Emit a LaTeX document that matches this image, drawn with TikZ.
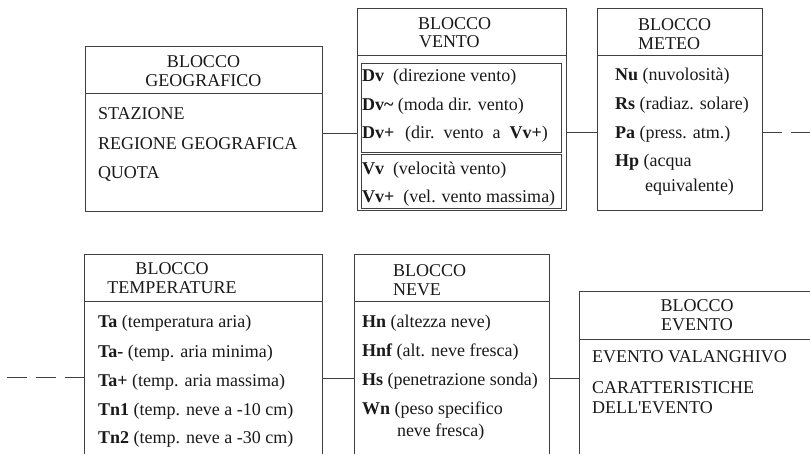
\documentclass[tikz,border=0pt]{standalone}
\usepackage{fontspec}
\setmainfont{Liberation Serif}
\newfontfamily\plainserif{Liberation Serif}
\begin{document}
\begin{tikzpicture}[x=1pt,y=-1pt,
  blockbox/.style={draw=black!75, line width=0.9pt, rectangle, inner sep=0pt, outer sep=0pt},
  txt/.style={anchor=base west, inner sep=0pt, outer sep=0pt, text=black!90, font=\fontsize{18}{21}\selectfont},
  hdr/.style={txt, anchor=base},
  link/.style={draw=black!75, line width=0.9pt},
  dashlink/.style={link, dash pattern=on 20pt off 9pt}]
\useasboundingbox (0,0) rectangle (810,453);
\clip (0,0) rectangle (810,453);

% ---- blocks ----
\node[blockbox, minimum width=237pt, minimum height=165pt] (geo) at (203.5,128.5) {};
\node[blockbox, minimum width=209pt, minimum height=202pt] (vento) at (461.5,109) {};
\node[blockbox, minimum width=200pt, minimum height=89pt] (ventoA) at (461,107.5) {};
\node[blockbox, minimum width=200pt, minimum height=54pt] (ventoB) at (461,181) {};
\node[blockbox, minimum width=165pt, minimum height=202pt] (meteo) at (679.5,109) {};
\node[blockbox, minimum width=238pt, minimum height=226pt] (temp) at (203,367) {};
\node[blockbox, minimum width=195pt, minimum height=226pt] (neve) at (451.5,367) {};
\node[blockbox, minimum width=261pt, minimum height=189pt] (evento) at (709.5,385.5) {};

% ---- header dividers ----
\draw[link] ([yshift=-47pt]geo.north west) -- ([yshift=-47pt]geo.north east);
\draw[link] ([yshift=-47pt]vento.north west) -- ([yshift=-47pt]vento.north east);
\draw[link] ([yshift=-47pt]meteo.north west) -- ([yshift=-47pt]meteo.north east);
\draw[link] ([yshift=-47pt]temp.north west) -- ([yshift=-47pt]temp.north east);
\draw[link] ([yshift=-47pt]neve.north west) -- ([yshift=-47pt]neve.north east);
\draw[link] ([yshift=-48pt]evento.north west) -- ([yshift=-48pt]evento.north east);

% ---- connectors ----
\coordinate (rowA) at (0,133);
\coordinate (rowB) at (0,132);
\coordinate (rowC) at (0,378);
\coordinate (rightend) at (810,132);
\coordinate (leftend) at (7,377);
\draw[link] (geo.east |- rowA) -- (vento.west |- rowA);
\draw[link] (vento.east |- rowB) -- (meteo.west |- rowB);
\draw[dashlink] (meteo.east |- rowB) -- (rightend);
\draw[dashlink] (leftend) -- (temp.west |- leftend);
\draw[link] (temp.east |- rowC) -- (neve.west |- rowC);
\draw[link] (neve.east |- rowC) -- (evento.west |- rowC);

% ---- BLOCCO GEOGRAFICO ----
\node[hdr] (geoh1) at (203.5,67) {BLOCCO};
\node[hdr] (geoh2) at (203.5,86) {GEOGRAFICO};
\node[txt] (geot1) at (98,119.5) {STAZIONE};
\node[txt] (geot2) at (98,149.5) {REGIONE GEOGRAFICA};
\node[txt] (geot3) at (98,178.5) {QUOTA};

% ---- BLOCCO VENTO ----
\node[txt] (venh1) at (418,29.5) {BLOCCO};
\node[txt] (venh2) at (419,47.5) {VENTO};
\node[txt] (vent1) at (362,81) {\textbf{Dv}\hspace{0.5em}(direzione vento)};
\node[txt] (vent2) at (362,110) {\textbf{Dv\textasciitilde} (moda dir. vento)};
\node[txt] (vent3) at (362,138) {\textbf{Dv+}\hspace{0.6em}(dir.\hspace{0.5em}vento\hspace{0.5em}a\hspace{0.5em}\textbf{Vv+})};
\node[txt] (vent4) at (362,174) {\textbf{Vv}\hspace{0.5em}(velocità vento)};
\node[txt] (vent5) at (362,202) {\textbf{Vv+}\hspace{0.5em}(vel. vento massima)};

% ---- BLOCCO METEO ----
\node[txt] (meth1) at (638,30.5) {BLOCCO};
\node[txt] (meth2) at (638,49.5) {METEO};
\node[txt] (met1) at (615,80.5) {\textbf{Nu} (nuvolosità)};
\node[txt] (met2) at (615,109.5) {\textbf{Rs} (radiaz. solare)};
\node[txt] (met3) at (615,138.5) {\textbf{Pa} (press. atm.)};
\node[txt] (met4) at (615,166.5) {\textbf{Hp} (acqua};
\node[txt] (met5) at (645,191.5) {equivalente)};

% ---- BLOCCO TEMPERATURE ----
\node[hdr] (temh1) at (172,274.5) {BLOCCO};
\node[hdr] (temh2) at (172,293.5) {TEMPERATURE};
\node[txt] (tem1) at (98,327.5) {\textbf{Ta} (temperatura aria)};
\node[txt] (tem2) at (98,357.5) {\textbf{Ta-} (temp. aria minima)};
\node[txt] (tem3) at (98,386.5) {\textbf{Ta+} (temp. aria massima)};
\node[txt] (tem4) at (98,415.5) {\textbf{Tn1} (temp. neve a -10 cm)};
\node[txt] (tem5) at (98,443.5) {\textbf{Tn2} (temp. neve a -30 cm)};

% ---- BLOCCO NEVE ----
\node[txt] (nevh1) at (393,276.5) {BLOCCO};
\node[txt] (nevh2) at (393,295.5) {NEVE};
\node[txt] (nev1) at (362,327.5) {\textbf{Hn} (altezza neve)};
\node[txt] (nev2) at (362,356.5) {\textbf{Hnf} (alt. neve fresca)};
\node[txt] (nev3) at (362,385.5) {\textbf{Hs} (penetrazione sonda)};
\node[txt] (nev4) at (362,414.5) {\textbf{Wn} (peso specifico};
\node[txt] (nev5) at (397,436.5) {neve fresca)};

% ---- BLOCCO EVENTO ----
\node[hdr] (evh1) at (697,311.5) {BLOCCO};
\node[hdr] (evh2) at (697,330.5) {EVENTO};
\node[txt] (ev1) at (592,362.5) {EVENTO VALANGHIVO};
\node[txt] (ev2) at (592,393.5) {CARATTERISTICHE};
\node[txt] (ev3) at (592,413.5) {{\plainserif DELL'EVENTO}};
\end{tikzpicture}
\end{document}
